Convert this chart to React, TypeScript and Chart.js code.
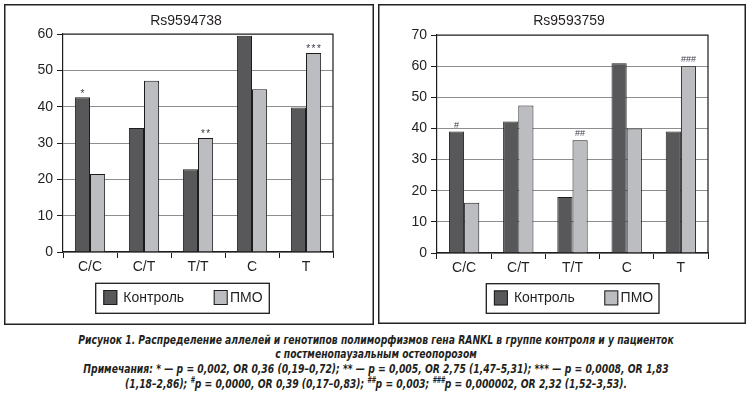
import React, { useEffect, useLayoutEffect, useRef, useState } from "react";
import { Chart, registerables } from "chart.js";

Chart.register(...registerables);

// ---------- data ----------
const categories = ["C/C", "C/T", "T/T", "C", "T"];
const seriesNames = ["Контроль", "ПМО"];

const titleLeft = "Rs9594738";
const controlLeft = [42.6, 34.1, 22.8, 59.5, 39.8];
const pmoLeft = [21.5, 47.1, 31.4, 44.8, 54.8];
const marksControlLeft = ["*", "", "", "", ""];
const marksPmoLeft = ["", "", "**", "", "***"];
const yMaxLeft = 60;

const titleRight = "Rs9593759";
const controlRight = [39.0, 42.2, 18.0, 60.9, 39.0];
const pmoRight = [16.1, 47.4, 36.2, 40.0, 60.0];
const marksControlRight = ["#", "", "", "", ""];
const marksPmoRight = ["", "", "##", "", "###"];
const yMaxRight = 70;

const yStep = 10;

const captionLine1 =
  "Рисунок 1. Распределение аллелей и генотипов полиморфизмов гена RANKL в группе контроля и у пациенток";
const captionLine2 = "с постменопаузальным остеопорозом";
const notesLine1 =
  "Примечания:  * — p = 0,002, OR 0,36 (0,19–0,72); ** — p = 0,005, OR 2,75 (1,47–5,31); *** — p = 0,0008, OR 1,83";
const notesLine2Parts = [
  ["", "(1,18–2,86); "],
  ["#", "p = 0,0000, OR 0,39 (0,17–0,83); "],
  ["##", "p = 0,003; "],
  ["###", "p = 0,000002, OR 2,32 (1,52–3,53)."],
];

// ---------- style ----------
const DARK = "#58585b";
const LIGHT = "#bcbdc0";
const EDGE = "#1c1c1c";
const INK = "#231f20";
const GRID = "#8e8e8e";
const FONT = "'Liberation Sans', Arial, sans-serif";
const CAPTION_TARGET_WIDTH = 595;

type Geo = {
  left: number;
  top: number;
  W: number;
  H: number;
  plotLeft: number;
  plotTop: number;
  plotRight: number;
  plotBottom: number;
  titleX: number;
  titleY: number;
  legX: number;
  legY: number;
  legW: number;
  legH: number;
};

type PanelSpec = {
  title: string;
  control: number[];
  pmo: number[];
  marks: string[][];
  yMax: number;
  geo: Geo;
};

const panels: PanelSpec[] = [
  {
    title: titleLeft,
    control: controlLeft,
    pmo: pmoLeft,
    marks: [marksControlLeft, marksPmoLeft],
    yMax: yMaxLeft,
    geo: {
      left: 4, top: 4, W: 370, H: 321,
      plotLeft: 59, plotTop: 30, plotRight: 329, plotBottom: 248,
      titleX: 182, titleY: 17,
      legX: 91.7, legY: 279.3, legW: 173.6, legH: 30,
    },
  },
  {
    title: titleRight,
    control: controlRight,
    pmo: pmoRight,
    marks: [marksControlRight, marksPmoRight],
    yMax: yMaxRight,
    geo: {
      left: 378, top: 4, W: 368, H: 320,
      plotLeft: 59, plotTop: 31, plotRight: 330, plotBottom: 249,
      titleX: 191, titleY: 17,
      legX: 108.3, legY: 279.7, legW: 172.7, legH: 29.6,
    },
  },
];

function Panel({ spec }: { spec: PanelSpec }) {
  const ref = useRef<HTMLCanvasElement | null>(null);
  useEffect(() => {
    const canvas = ref.current;
    if (!canvas) return;
    const g = spec.geo;
    const colors = [DARK, LIGHT];

    const decor = {
      id: "decor",
      afterDatasetsDraw(chart: any) {
        const ctx = chart.ctx;
        ctx.save();
        ctx.fillStyle = "#3a3a48";
        ctx.textAlign = "center";
        ctx.textBaseline = "alphabetic";
        spec.marks.forEach((arr, di) => {
          const meta = chart.getDatasetMeta(di);
          arr.forEach((m, j) => {
            if (!m) return;
            const el = meta.data[j];
            if (m[0] === "#") {
              ctx.font = `9px ${FONT}`;
              (ctx as any).letterSpacing = "0px";
              ctx.fillText(m, el.x, el.y - 4);
            } else {
              ctx.font = `10px ${FONT}`;
              (ctx as any).letterSpacing = "1.5px";
              ctx.fillText(m, el.x + 0.75, el.y - 0.5);
            }
          });
        });
        ctx.restore();
      },
      afterDraw(chart: any) {
        const ctx = chart.ctx;
        const a = chart.chartArea;
        ctx.save();
        ctx.strokeStyle = EDGE;
        ctx.lineWidth = 1.2;
        ctx.beginPath();
        ctx.moveTo(a.left, a.top);
        ctx.lineTo(a.right, a.top);
        ctx.lineTo(a.right, a.bottom);
        ctx.stroke();
        ctx.lineWidth = 1.5;
        ctx.strokeStyle = "#222";
        ctx.strokeRect(0.75, 0.75, g.W - 1.5, g.H - 1.5);
        ctx.fillStyle = INK;
        ctx.font = `14px ${FONT}`;
        ctx.textAlign = "center";
        ctx.textBaseline = "middle";
        ctx.fillText(spec.title, g.titleX, g.titleY);
        ctx.lineWidth = 1.3;
        ctx.strokeStyle = EDGE;
        ctx.strokeRect(g.legX, g.legY, g.legW, g.legH);
        const items = [
          { sw: 7.6, tx: 27.6 },
          { sw: 118, tx: 134.3 },
        ];
        items.forEach((it, i) => {
          ctx.fillStyle = colors[i];
          ctx.fillRect(g.legX + it.sw, g.legY + 6.7, 14, 15);
          ctx.lineWidth = 1;
          ctx.strokeStyle = EDGE;
          ctx.strokeRect(g.legX + it.sw + 0.5, g.legY + 7.2, 13, 14);
          ctx.fillStyle = INK;
          ctx.font = `14px ${FONT}`;
          ctx.textAlign = "left";
          ctx.textBaseline = "middle";
          ctx.fillText(seriesNames[i], g.legX + it.tx, g.legY + 14.5);
        });
        ctx.restore();
      },
    };

    const chart = new Chart(canvas, {
      type: "bar",
      data: {
        labels: categories,
        datasets: [spec.control, spec.pmo].map((d, i) => ({
          label: seriesNames[i],
          data: d,
          backgroundColor: colors[i],
          borderColor: EDGE,
          borderWidth: 1,
          categoryPercentage: 0.56,
          barPercentage: 1,
        })),
      },
      options: {
        animation: false,
        responsive: false,
        devicePixelRatio: 1,
        layout: {
          padding: { left: 0, top: g.plotTop, right: g.W - g.plotRight, bottom: 0 },
        },
        plugins: {
          legend: { display: false },
          title: { display: false },
          tooltip: { enabled: false },
        },
        scales: {
          x: {
            grid: {
              offset: true,
              drawOnChartArea: false,
              drawTicks: true,
              tickLength: 6,
              color: EDGE,
              lineWidth: 1,
            },
            border: { color: EDGE, width: 1.2 },
            ticks: { color: INK, font: { family: FONT, size: 14 }, padding: 1 },
            afterFit(scale: any) {
              scale.height = g.H - g.plotBottom;
            },
          },
          y: {
            min: 0,
            max: spec.yMax,
            grid: {
              color: GRID,
              lineWidth: 1,
              tickColor: EDGE,
              tickLength: 6,
              drawTicks: true,
            },
            border: { color: EDGE, width: 1.2 },
            ticks: {
              stepSize: yStep,
              color: INK,
              font: { family: FONT, size: 14 },
              padding: 4,
            },
            afterFit(scale: any) {
              scale.width = g.plotLeft;
            },
          },
        },
      },
      plugins: [decor],
    } as any);
    return () => chart.destroy();
  }, [spec]);

  const g = spec.geo;
  return (
    <div style={{ position: "absolute", left: g.left, top: g.top, width: g.W, height: g.H }}>
      <canvas ref={ref} width={g.W} height={g.H} style={{ width: g.W, height: g.H, display: "block" }} />
    </div>
  );
}

const capStyle: React.CSSProperties = {
  position: "absolute",
  left: 0,
  width: 752,
  textAlign: "center",
  whiteSpace: "nowrap",
  fontFamily: "'DejaVu Sans Condensed', 'Open Sans', sans-serif",
  fontWeight: "bold",
  fontStyle: "italic",
  fontSize: 12.5,
  lineHeight: "14px",
  color: INK,
  transformOrigin: "376px 50%",
};

export default function App() {
  const firstRef = useRef<HTMLSpanElement | null>(null);
  const [k, setK] = useState(1);
  useLayoutEffect(() => {
    const el = firstRef.current;
    if (el) {
      const w = el.offsetWidth;
      if (w > 0) setK(CAPTION_TARGET_WIDTH / w);
    }
  }, []);
  const st = { ...capStyle, transform: `scaleX(${k})` };
  return (
    <div style={{ position: "absolute", left: 0, top: 0, width: 748, height: 397, background: "#fff" }}>
      {panels.map((p, i) => (
        <Panel key={i} spec={p} />
      ))}
      <div style={{ ...st, top: 333 }}>
        <span ref={firstRef} style={{ display: "inline-block" }}>{captionLine1}</span>
      </div>
      <div style={{ ...st, top: 347 }}>{captionLine2}</div>
      <div style={{ ...st, top: 362 }}>{notesLine1}</div>
      <div style={{ ...st, top: 377 }}>
        {notesLine2Parts.map(([sup, txt], i) => (
          <span key={i}>
            {sup ? <sup style={{ fontSize: 8, lineHeight: 0 }}>{sup}</sup> : null}
            {txt}
          </span>
        ))}
      </div>
    </div>
  );
}
